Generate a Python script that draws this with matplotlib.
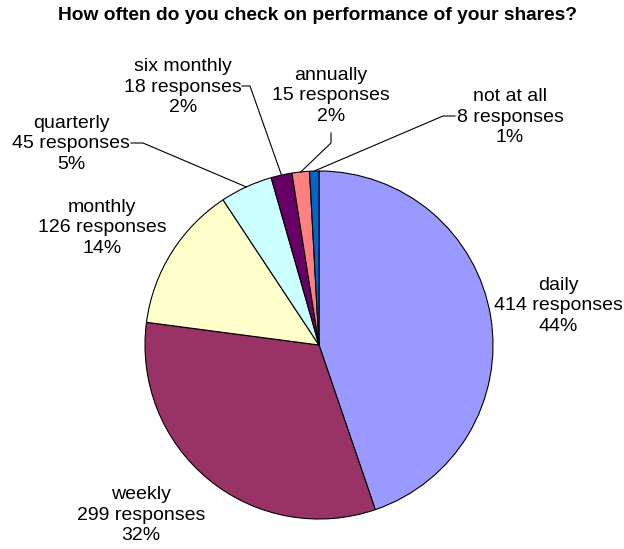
import numpy as np
import matplotlib.pyplot as plt

plt.rcParams['font.family'] = ['Liberation Sans', 'DejaVu Sans']

# data
kategoriyalar = ["daily", "weekly", "monthly", "quarterly", "six monthly", "annually", "not at all"]
javoblar = [414, 299, 126, 45, 18, 15, 8]
foizlar = ["44%", "32%", "14%", "5%", "2%", "2%", "1%"]
ranglar = ["#9999FF", "#993366", "#FFFFCC", "#CCFFFF", "#660066", "#FF8080", "#0066CC"]

W, H = 624, 549
fig = plt.figure(figsize=(W / 100, H / 100), dpi=100)
ax = fig.add_axes([0, 0, 1, 1])

cx, cy, r = 319, H - 345, 174
wedges, _ = ax.pie(javoblar, colors=ranglar, startangle=90, counterclock=False,
                   center=(cx, cy), radius=r,
                   wedgeprops=dict(edgecolor='black', linewidth=0.8))
# pie o'z chegaralarini qo'yadi, shuning uchun keyin qayta o'rnatamiz
ax.set_xlim(0, W)
ax.set_ylim(0, H)
ax.set_aspect('equal')
ax.axis('off')

fig.text(317 / W, 1 - 16 / H, "How often do you check on performance of your shares?",
         ha='center', va='center', fontsize=13.8, fontweight='bold')

# label positions (pixel, top-left origin) and leader elbows
joylar = [(558, 306), (141, 515), (102, 228), (71, 144), (183, 87), (331, 96), (510, 117)]
tirsak = [None, None, None, (143, 143), (250, 86), (331, 143), (443, 116)]
boshi = [None, None, None, (131, 143), (242, 86), (331, 133), (455, 116)]

for i, w in enumerate(wedges):
    matn = "{}\n{} responses\n{}".format(kategoriyalar[i], javoblar[i], foizlar[i])
    x, y = joylar[i]
    ax.text(x, H - y, matn, ha='center', va='center', fontsize=14, linespacing=1.28)
    if tirsak[i] is not None:
        burchak = np.deg2rad((w.theta1 + w.theta2) / 2)
        px = cx + r * np.cos(burchak)
        py = cy + r * np.sin(burchak)
        bx, by = boshi[i]
        ex, ey = tirsak[i]
        ax.plot([bx, ex, px], [H - by, H - ey, py], color='black', lw=0.8)

fig.savefig("out.png", dpi=100)
